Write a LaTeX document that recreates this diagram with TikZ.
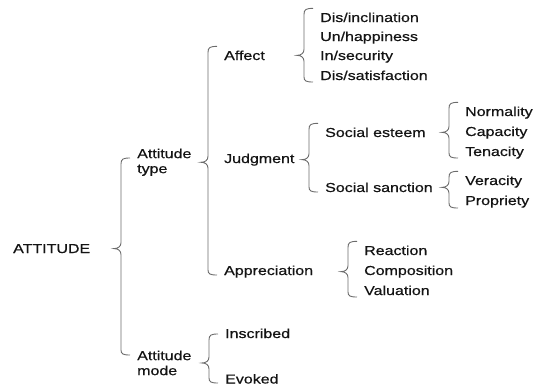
\documentclass[tikz,border=0pt]{standalone}
\usepackage{fontspec}
\setmainfont{Liberation Sans}[FakeStretch=1.23, FakeBold=0.6]
\usetikzlibrary{calc}
\tikzset{
	lbl/.style={inner sep=0pt, anchor=base west, text=black!92, font=\fontsize{13}{15}\selectfont},
	mlbl/.style={lbl, anchor=north west, align=left},
	brc/.style={draw=black!58, line width=0.9pt},
}
% curly brace: parent, top end, bottom end
\newcommand{\brc}[3]{
	\draw[brc] let \p1=(#2), \p2=(#3), \p3=(#1.west), \n1={\x1-16} in
		(\n1+9, \y1+4pt) .. controls (\n1+2, \y1+4pt) and (\n1, \y1+3pt) .. (\n1, \y1-2pt)
		-- (\n1, \y3+6pt) .. controls (\n1, \y3+2pt) and (\n1-3, \y3) .. (\n1-7, \y3)
		.. controls (\n1-3, \y3) and (\n1, \y3-2pt) .. (\n1, \y3-6pt)
		-- (\n1, \y2+5pt) .. controls (\n1, \y2+1pt) and (\n1+2, \y2) .. (\n1+9, \y2)
}

\begin{document}
\begin{tikzpicture}[x=1pt, y=-1pt]
	\useasboundingbox (0,0) rectangle (533,386);
	\node[lbl] (att) at (13,253) {ATTITUDE};
	\node[mlbl] (atype) at (137,148.5) {Attitude\\type};
	\node[mlbl] (amode) at (137,350.5) {Attitude\\mode};
	\node[lbl] (affect) at (224,60) {Affect};
	\node[lbl] (judg) at (224,163) {Judgment};
	\node[lbl] (appr) at (224,275) {Appreciation};
	\node[lbl] (inscr) at (225,338) {Inscribed};
	\node[lbl] (evoked) at (225,383.5) {Evoked};
	\node[lbl] (dis1) at (320,22) {Dis/inclination};
	\node[lbl] (dis2) at (320,41) {Un/happiness};
	\node[lbl] (dis3) at (320,60) {In/security};
	\node[lbl] (dis4) at (320,80) {Dis/satisfaction};
	\node[lbl] (esteem) at (325,137) {Social esteem};
	\node[lbl] (sanct) at (325,192) {Social sanction};
	\node[lbl] (norm) at (465,116) {Normality};
	\node[lbl] (capa) at (465,136) {Capacity};
	\node[lbl] (tena) at (465,156) {Tenacity};
	\node[lbl] (vera) at (465,185) {Veracity};
	\node[lbl] (prop) at (465,205) {Propriety};
	\node[lbl] (react) at (364,255) {Reaction};
	\node[lbl] (compo) at (364,275) {Composition};
	\node[lbl] (valu) at (364,295) {Valuation};
	\brc{att}{[yshift=-13.5pt]atype.north west}{[yshift=-4.5pt]amode.north west};
	\brc{atype}{affect.north west}{appr.base west};
	\brc{amode}{inscr.base west}{[yshift=0.5pt]evoked.base west};
	\brc{affect}{dis1.north west}{[yshift=-2pt]dis4.base west};
	\brc{judg}{esteem.north west}{sanct.base west};
	\brc{esteem}{norm.north west}{[yshift=-2pt]tena.base west};
	\brc{sanct}{vera.north west}{[yshift=-3pt]prop.base west};
	\brc{appr}{react.north west}{[yshift=-2pt]valu.base west};
\end{tikzpicture}
\end{document}
